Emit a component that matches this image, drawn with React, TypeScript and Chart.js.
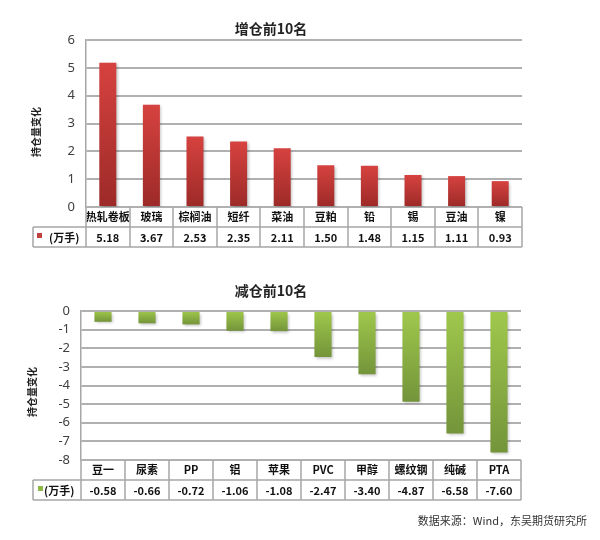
import React, { useEffect, useRef } from "react";
import { Chart, registerables } from "chart.js";
Chart.register(...registerables);

// ---- data ----
const incCategories = ["热轧卷板", "玻璃", "棕榈油", "短纤", "菜油", "豆粕", "铅", "锡", "豆油", "镍"];
const incValues = [5.18, 3.67, 2.53, 2.35, 2.11, 1.5, 1.48, 1.15, 1.11, 0.93];
const incRange = [0, 6];
const decCategories = ["豆一", "尿素", "PP", "铝", "苹果", "PVC", "甲醇", "螺纹钢", "纯碱", "PTA"];
const decValues = [-0.58, -0.66, -0.72, -1.06, -1.08, -2.47, -3.4, -4.87, -6.58, -7.6];
const decRange = [-8, 0];
const incTitle = "增仓前10名";
const decTitle = "减仓前10名";
const yAxisTitle = "持仓量变化";
const unitLabel = "(万手)";
const sourceText = "数据来源：Wind，东吴期货研究所";

const CJK = '"Noto Sans CJK SC", "Noto Sans", sans-serif';

type Spec = {
  categories: string[];
  values: number[];
  range: number[];
  title: string;
  height: number;
  left: number;
  right: number;
  top: number;
  bottom: number;
  titleX: number;
  titleY: number;
  yTitleX: number;
  yTitleY: number;
  tableLeft: number;
  sqX: number;
  unitX: number;
  topColor: string;
  bottomColor: string;
  legendColor: string;
  source?: { text: string; x: number; y: number };
};

function makeConfig(s: Spec): any {
  const rowH = 20;
  const tablePlugin = {
    id: "tbl",
    beforeDatasetsDraw(chart: any) {
      const ctx = chart.ctx;
      ctx.save();
      ctx.shadowColor = "rgba(0,0,0,0.28)";
      ctx.shadowBlur = 3;
      ctx.shadowOffsetX = 1.5;
      ctx.shadowOffsetY = 1.5;
    },
    afterDatasetsDraw(chart: any) {
      chart.ctx.restore();
    },
    afterDraw(chart: any) {
      const { ctx, chartArea: a } = chart;
      const x = chart.scales.x;
      const n = s.categories.length;
      const t0 = a.bottom;
      const t1 = t0 + rowH;
      const t2 = t1 + rowH;
      ctx.save();
      ctx.strokeStyle = "#a6a6a6";
      ctx.lineWidth = 1.5;
      const line = (x1: number, y1: number, x2: number, y2: number) => {
        ctx.beginPath();
        ctx.moveTo(x1, y1);
        ctx.lineTo(x2, y2);
        ctx.stroke();
      };
      line(s.tableLeft, t1, a.right, t1);
      line(s.tableLeft, t2, a.right, t2);
      line(s.tableLeft, t1, s.tableLeft, t2);
      for (let i = 0; i <= n; i++) {
        const xb = Math.round(x.getPixelForValue(i - 0.5));
        line(xb, t0, xb, t2);
      }
      // values row
      ctx.fillStyle = "#111";
      ctx.font = `bold 11px ${CJK}`;
      ctx.textAlign = "center";
      ctx.textBaseline = "middle";
      s.values.forEach((v, i) => {
        ctx.fillText(v.toFixed(2), x.getPixelForValue(i), (t1 + t2) / 2 + 0.5);
      });
      // legend key
      ctx.fillStyle = s.legendColor;
      ctx.fillRect(s.sqX, (t1 + t2) / 2 - 4, 5, 5);
      ctx.fillStyle = "#111";
      ctx.textAlign = "left";
      ctx.fillText(unitLabel, s.unitX, (t1 + t2) / 2 + 0.5);
      // title
      ctx.font = `bold 14px ${CJK}`;
      ctx.fillStyle = "#222";
      ctx.textAlign = "center";
      ctx.fillText(s.title, s.titleX, s.titleY);
      // y axis title
      ctx.save();
      ctx.translate(s.yTitleX, s.yTitleY);
      ctx.rotate(-Math.PI / 2);
      ctx.font = `bold 10px ${CJK}`;
      ctx.fillText(yAxisTitle, 0, 0);
      ctx.restore();
      if (s.source) {
        ctx.font = `11px ${CJK}`;
        ctx.fillStyle = "#333";
        ctx.textAlign = "right";
        ctx.fillText(s.source.text, s.source.x, s.source.y);
      }
      ctx.restore();
    },
  };

  return {
    type: "bar",
    data: {
      labels: s.categories,
      datasets: [
        {
          data: s.values,
          barPercentage: 0.39,
          categoryPercentage: 1,
          borderWidth: 0,
          backgroundColor: (c: any) => {
            const chart = c.chart;
            const ys = chart.scales && chart.scales.y;
            if (!ys || c.raw == null) return s.topColor;
            const p0 = ys.getPixelForValue(0);
            const p1 = ys.getPixelForValue(c.raw);
            const yTop = Math.min(p0, p1);
            const yBot = Math.max(p0, p1);
            if (!isFinite(yTop) || yBot - yTop < 1) return s.topColor;
            const g = chart.ctx.createLinearGradient(0, yTop, 0, yBot);
            g.addColorStop(0, s.topColor);
            g.addColorStop(1, s.bottomColor);
            return g;
          },
        },
      ],
    },
    options: {
      responsive: false,
      animation: false,
      layout: {
        padding: { left: 0, top: s.top, right: 600 - s.right, bottom: s.height - s.bottom - 2 * rowH },
      },
      plugins: { legend: { display: false }, title: { display: false }, tooltip: { enabled: false } },
      scales: {
        x: {
          grid: { display: false, drawTicks: false, tickLength: 0 },
          border: { display: false },
          ticks: { color: "#111", font: { family: CJK, size: 11, weight: "bold" }, padding: 3, maxRotation: 0, autoSkip: false },
          afterFit: (sc: any) => {
            sc.height = 2 * rowH;
          },
        },
        y: {
          min: s.range[0],
          max: s.range[1],
          ticks: { stepSize: 1, color: "#404040", font: { family: '"Noto Sans", sans-serif', size: 13 }, padding: 11 },
          grid: { color: "#b0b0b0", lineWidth: 2, drawTicks: false, tickLength: 0 },
          border: { display: true, color: "#a6a6a6", width: 1.5 },
          afterFit: (sc: any) => {
            sc.width = s.left;
          },
        },
      },
    },
    plugins: [tablePlugin],
  };
}

const incSpec: Spec = {
  categories: incCategories,
  values: incValues,
  range: incRange,
  title: incTitle,
  height: 260,
  left: 86,
  right: 522,
  top: 40,
  bottom: 207,
  titleX: 271,
  titleY: 29,
  yTitleX: 36,
  yTitleY: 132,
  tableLeft: 33,
  sqX: 37,
  unitX: 49,
  topColor: "#d6423f",
  bottomColor: "#9c2a28",
  legendColor: "#c0413e",
};

const decSpec: Spec = {
  categories: decCategories,
  values: decValues,
  range: decRange,
  title: decTitle,
  height: 280,
  left: 81,
  right: 521,
  top: 51,
  bottom: 200,
  titleX: 271,
  titleY: 31,
  yTitleX: 32,
  yTitleY: 132,
  tableLeft: 33,
  sqX: 38,
  unitX: 44,
  topColor: "#a0c84c",
  bottomColor: "#74943a",
  legendColor: "#8fb848",
  source: { text: sourceText, x: 587, y: 261 },
};

function BarTable({ spec, top }: { spec: Spec; top: number }) {
  const ref = useRef<HTMLCanvasElement>(null);
  useEffect(() => {
    if (!ref.current) return;
    const chart = new Chart(ref.current, makeConfig(spec));
    return () => chart.destroy();
  }, []);
  return (
    <canvas
      ref={ref}
      width={600}
      height={spec.height}
      style={{ position: "absolute", left: 0, top, width: 600, height: spec.height }}
    />
  );
}

export default function App() {
  return (
    <div style={{ position: "absolute", left: 0, top: 0, width: 600, height: 540, background: "#fff" }}>
      <BarTable spec={incSpec} top={0} />
      <BarTable spec={decSpec} top={260} />
    </div>
  );
}
